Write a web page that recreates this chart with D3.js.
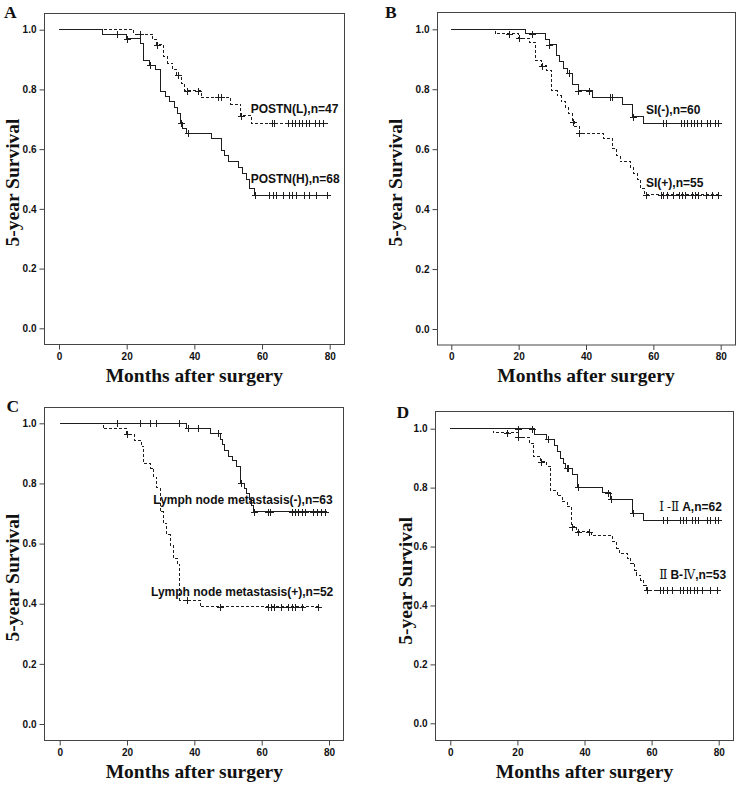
<!DOCTYPE html>
<html><head><meta charset="utf-8">
<script src="https://cdn.jsdelivr.net/npm/d3@7"></script>
<style>body{margin:0;background:#fff}</style>
</head><body>
<svg id="c" width="739" height="787"></svg>
<script>
// ---------- shared labels ----------
const xTicks = [0, 20, 40, 60, 80];
const yTicks = [0, 0.2, 0.4, 0.6, 0.8, 1.0];
const xTitle = "Months after surgery";
const yTitle = "5-year Survival";

// ---------- Panel A ----------
const A_H_times = [13, 20, 24, 25, 26.6, 28.6, 30, 31.6, 32.8, 34, 35, 35.8, 36.6, 37.8, 45, 48, 49, 50, 53, 54.2, 55.5, 56.4, 57.7];
const A_H_surv  = [0.985, 0.970, 0.955, 0.897, 0.881, 0.866, 0.794, 0.777, 0.759, 0.740, 0.720, 0.689, 0.670, 0.653, 0.634, 0.596, 0.578, 0.557, 0.537, 0.518, 0.500, 0.468, 0.446];
const A_H_cens  = [17, 20, 26.8, 36, 38, 57.9, 62.2, 63.2, 64.1, 66.1, 68.1, 69, 70, 72.4, 73.9, 75.9, 79.1];
const A_H_end = 79.5;
const A_L_times = [22, 27.7, 28.9, 30.8, 32.2, 33.5, 34.8, 36.2, 37.2, 42, 50.8, 53.7, 56.9];
const A_L_surv  = [0.985, 0.968, 0.949, 0.910, 0.888, 0.867, 0.848, 0.820, 0.796, 0.773, 0.751, 0.712, 0.686];
const A_L_cens  = [24, 28.9, 35.2, 37.9, 41, 46.9, 47.8, 53.7, 62.9, 63.6, 67.8, 68.8, 69.8, 70.9, 71.9, 72.9, 73.9, 75.7, 76.7, 78];
const A_L_end = 79.8;

// ---------- Panel B ----------
const B_neg_times = [22, 28.1, 29.1, 31.1, 32.1, 33.3, 34.6, 36.1, 37.7, 42, 50.9, 53.9, 57];
const B_neg_surv  = [0.985, 0.967, 0.948, 0.914, 0.892, 0.870, 0.853, 0.815, 0.795, 0.773, 0.750, 0.708, 0.686];
const B_neg_cens  = [23.9, 29.1, 35.1, 37.7, 40.9, 47.1, 47.8, 53.9, 62.9, 63.7, 68.1, 69.1, 70.1, 71.1, 72.1, 73.1, 74.1, 75.9, 76.9, 78.2, 79.2];
const B_neg_end = 79.7;
const B_pos_times = [13, 20, 23.2, 24.9, 26.9, 28.4, 29.9, 31.4, 32.6, 33.8, 34.8, 36.1, 36.7, 38, 45.1, 47.9, 49.1, 50.1, 53.1, 54.2, 55.2, 56.2, 57.3];
const B_pos_surv  = [0.985, 0.970, 0.955, 0.896, 0.879, 0.862, 0.795, 0.778, 0.759, 0.740, 0.720, 0.692, 0.675, 0.653, 0.634, 0.603, 0.580, 0.558, 0.540, 0.520, 0.500, 0.470, 0.448];
const B_pos_cens  = [17, 20, 26.9, 36.1, 38, 57.8, 62.2, 63, 64, 65.8, 67.5, 68.5, 69.4, 71.4, 72.4, 73.4, 75.6, 77.3, 79.1];
const B_pos_end = 79.5;

// ---------- Panel C ----------
const C_neg_times = [37.6, 44.9, 47.8, 48.4, 49.1, 50.1, 51.3, 52.4, 53.8, 54.8, 55.5, 56.3, 57.1, 57.7];
const C_neg_surv  = [0.984, 0.967, 0.947, 0.928, 0.911, 0.891, 0.875, 0.856, 0.800, 0.784, 0.765, 0.748, 0.728, 0.706];
const C_neg_cens  = [16.9, 24, 26.8, 28.7, 35.3, 38, 41, 46.9, 53.8, 57.7, 61.8, 62.6, 68.9, 69.9, 70.9, 71.9, 72.9, 75.2, 76.4, 77.5, 78.8];
const C_neg_end = 79.5;
const C_pos_times = [13, 19.9, 22.2, 24.2, 25, 27, 28, 28.8, 29.8, 30.8, 31.8, 32.8, 33.8, 34.9, 35.7, 41.7];
const C_pos_surv  = [0.982, 0.963, 0.944, 0.924, 0.865, 0.850, 0.820, 0.786, 0.706, 0.667, 0.629, 0.595, 0.551, 0.532, 0.412, 0.390];
const C_pos_cens  = [20, 37.9, 47.6, 62, 62.7, 63.7, 65.7, 67.9, 68.9, 69.9, 71.9, 76.8];
const C_pos_end = 77.5;

// ---------- Panel D ----------
const D_early_times = [25, 28.7, 31.2, 32, 32.8, 33.6, 34.4, 36.5, 38, 45.3, 47.8, 54.4, 57.5];
const D_early_surv  = [0.982, 0.964, 0.942, 0.922, 0.900, 0.883, 0.866, 0.843, 0.801, 0.783, 0.760, 0.713, 0.690];
const D_early_cens  = [20.2, 24.3, 29.2, 34.7, 35.2, 38, 47.1, 48, 54.4, 63.5, 64.5, 68.5, 69.5, 70.3, 72, 72.9, 73.9, 76.4, 77.4, 78.9, 79.9];
const D_early_end = 80;
const D_late_times = [12.8, 20.3, 23.5, 24.8, 26.9, 28.7, 29.9, 31.9, 33.4, 34.8, 36.2, 37.7, 42.1, 48.4, 49.6, 50.4, 52.8, 53.8, 55, 55.5, 56.7, 57.7, 58.6];
const D_late_surv  = [0.986, 0.971, 0.950, 0.905, 0.888, 0.873, 0.790, 0.772, 0.752, 0.735, 0.667, 0.650, 0.636, 0.616, 0.594, 0.577, 0.560, 0.543, 0.520, 0.503, 0.486, 0.469, 0.452];
const D_late_cens  = [16.8, 20.3, 27, 36.2, 38.2, 41.2, 58.6, 62.5, 63.5, 64.5, 66, 68.5, 69.5, 70.5, 71.5, 72.5, 73.5, 74.9, 77.4, 79.4];
const D_late_end = 79.6;

// ---------- layout ----------
const panels = [
  {letter:"A", box:[44,13,344,344], xr:[59,329.7], yr:[328.3,29.7], letterPos:[4,18], yTitlePos:[18.5,182.5],
   series:[
     {t:A_L_times, s:A_L_surv, c:A_L_cens, end:A_L_end, dash:true, label:[["POSTN(L),n=47",null]], lp:[250.7,112.5]},
     {t:A_H_times, s:A_H_surv, c:A_H_cens, end:A_H_end, dash:false, label:[["POSTN(H),n=68",null]], lp:[250.7,183]}
   ]},
  {letter:"B", box:[437,12,735,344.5], xr:[451.3,720.7], yr:[329,29.3], letterPos:[385,18], yTitlePos:[402,182.5],
   series:[
     {t:B_neg_times, s:B_neg_surv, c:B_neg_cens, end:B_neg_end, dash:false, label:[["SI(-),n=60",null]], lp:[646,114]},
     {t:B_pos_times, s:B_pos_surv, c:B_pos_cens, end:B_pos_end, dash:true, label:[["SI(+),n=55",null]], lp:[646,187]}
   ]},
  {letter:"C", box:[44,407,343,740], xr:[59.7,329], yr:[724,423.3], letterPos:[6.5,411.5], yTitlePos:[18.5,577.5],
   series:[
     {t:C_neg_times, s:C_neg_surv, c:C_neg_cens, end:C_neg_end, dash:false, label:[["Lymph node metastasis(-),n=63",null]], lp:[153.3,503.5]},
     {t:C_pos_times, s:C_pos_surv, c:C_pos_cens, end:C_pos_end, dash:true, label:[["Lymph node metastasis(+),n=52",null]], lp:[151,596]}
   ]},
  {letter:"D", box:[435,411,733,740], xr:[450.3,718.7], yr:[723.3,428.7], letterPos:[396.5,418], yTitlePos:[411.7,580.8],
   series:[
     {t:D_early_times, s:D_early_surv, c:D_early_cens, end:D_early_end, dash:false, label:[["Ⅰ -Ⅱ ","roman"],["A,n=62",null]], lp:[659.3,511]},
     {t:D_late_times, s:D_late_surv, c:D_late_cens, end:D_late_end, dash:true, label:[["Ⅱ ","roman"],["B-",null],["Ⅳ","roman"],[",n=53",null]], lp:[659.3,578.5]}
   ]}
];

const svg = d3.select("#c");
const sans = "'Liberation Sans', Arial, sans-serif";
const serif = "'Liberation Serif', 'Times New Roman', serif";
const roman = "'Liberation Serif','DejaVu Serif','Noto Sans CJK SC',serif";
const ink = "#1e1e1e";

panels.forEach(p => {
  const g = svg.append("g");
  const [bx0, by0, bx1, by1] = p.box;
  const x = d3.scaleLinear().domain([0, 80]).range(p.xr);
  const y = d3.scaleLinear().domain([0, 1]).range(p.yr);

  g.append("rect").attr("x", bx0 + 0.5).attr("y", by0 + 0.5)
    .attr("width", bx1 - bx0).attr("height", by1 - by0)
    .attr("fill", "none").attr("stroke", "#444").attr("stroke-width", 1);

  const xa = g.append("g").attr("transform", `translate(0,${by1 + 0.5})`)
    .call(d3.axisBottom(x).tickValues(xTicks).tickSize(5).tickPadding(3).tickFormat(d3.format("d")));
  const ya = g.append("g").attr("transform", `translate(${bx0 + 0.5},0)`)
    .call(d3.axisLeft(y).tickValues(yTicks).tickSize(5).tickPadding(3).tickFormat(d3.format(".1f")));
  [xa, ya].forEach(a => {
    a.select(".domain").remove();
    a.selectAll("line").attr("stroke", "#444");
    a.selectAll("text").attr("font-family", sans).attr("font-weight", "bold")
      .attr("font-size", 10).attr("fill", "#111");
  });

  g.append("text").attr("x", (p.xr[0] + p.xr[1]) / 2).attr("y", by1 + 37.5)
    .attr("text-anchor", "middle").attr("font-family", serif).attr("font-weight", "bold")
    .attr("font-size", 19.5).attr("fill", "#111").text(xTitle);
  g.append("text").attr("transform", `translate(${p.yTitlePos[0]},${p.yTitlePos[1]}) rotate(-90)`)
    .attr("text-anchor", "middle").attr("font-family", serif).attr("font-weight", "bold")
    .attr("font-size", 19.5).attr("fill", "#111").text(yTitle);
  g.append("text").attr("x", p.letterPos[0]).attr("y", p.letterPos[1])
    .attr("font-family", serif).attr("font-weight", "bold").attr("font-size", 17.5)
    .attr("fill", "#111").text(p.letter);

  const line = d3.line().x(d => x(d[0])).y(d => y(d[1])).curve(d3.curveStepAfter);

  p.series.forEach(sr => {
    const pts = [[0, 1]];
    sr.t.forEach((t, i) => pts.push([t, sr.s[i]]));
    pts.push([sr.end, sr.s[sr.s.length - 1]]);
    g.append("path").attr("d", line(pts)).attr("fill", "none")
      .attr("stroke", ink).attr("stroke-width", 1)
      .attr("stroke-dasharray", sr.dash ? "3,2" : null)
      .attr("shape-rendering", "crispEdges");

    const level = c => {
      let v = 1;
      sr.t.forEach((t, i) => { if (t <= c) v = sr.s[i]; });
      return v;
    };
    const marks = g.append("g").attr("stroke", ink).attr("stroke-width", 1).attr("shape-rendering", "crispEdges");
    sr.c.forEach(c => {
      const cx = Math.round(x(c)) + 0.5, cy = Math.round(y(level(c))) + 0.5;
      marks.append("line").attr("x1", cx).attr("x2", cx).attr("y1", cy - 3.5).attr("y2", cy + 3.5);
      marks.append("line").attr("x1", cx - 3.5).attr("x2", cx + 3.5).attr("y1", cy).attr("y2", cy);
    });

    const txt = g.append("text").attr("x", sr.lp[0]).attr("y", sr.lp[1])
      .attr("font-size", 12).attr("fill", "#111");
    sr.label.forEach(([s, kind]) => {
      const ts = txt.append("tspan").text(s);
      if (kind === "roman") ts.attr("font-family", roman).attr("font-weight", "normal");
      else ts.attr("font-family", sans).attr("font-weight", "bold");
    });
  });
});
</script>
</body></html>
